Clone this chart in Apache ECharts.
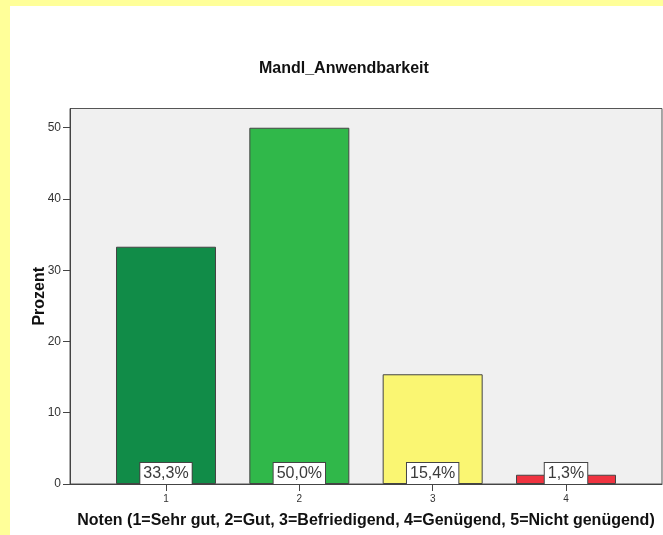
<!DOCTYPE html>
<html>
<head>
<meta charset="utf-8">
<script src="https://cdn.jsdelivr.net/npm/echarts@6/dist/echarts.min.js"></script>
<style>
  html, body { margin: 0; padding: 0; background: #ffff99; }
  #chart { position: absolute; left: 10px; top: 6px; width: 653px; height: 529px; background: #fff; }
</style>
</head>
<body>
<div id="chart"></div>
<script>
// Noten und Prozentwerte
const categories = ['1', '2', '3', '4'];
const percents = [33.3, 50.0, 15.4, 1.3];
const barColors = ['#118c48', '#30b84a', '#faf672', '#ef3340'];
const yTicks = [0, 10, 20, 30, 40, 50];

const fontFamily = '"Liberation Sans", Arial, sans-serif';

const myChart = echarts.init(document.getElementById('chart'));

const option = {
  animation: false,
  textStyle: { fontFamily: fontFamily },
  title: {
    text: 'Mandl_Anwendbarkeit',
    left: 249,
    top: 55,
    padding: 0,
    textStyle: { fontSize: 16, fontWeight: 'bold', color: '#111', fontFamily: fontFamily }
  },
  grid: {
    left: 60,
    top: 102.5,
    right: 1,
    bottom: 51,
    show: true,
    backgroundColor: '#f0f0f0',
    borderColor: '#555',
    borderWidth: 1
  },
  xAxis: {
    type: 'value',
    min: 0.28,
    max: 4.72,
    name: 'Noten (1=Sehr gut, 2=Gut, 3=Befriedigend, 4=Genügend, 5=Nicht genügend)',
    nameLocation: 'middle',
    nameGap: 29,
    nameMoveOverlap: false,
    nameTextStyle: { fontSize: 16, fontWeight: 'bold', color: '#111' },
    axisLine: { lineStyle: { color: '#444' } },
    axisTick: {
      customValues: categories.map((c, i) => i + 1),
      length: 7,
      lineStyle: { color: '#444' }
    },
    axisLabel: {
      customValues: categories.map((c, i) => i + 1),
      formatter: v => categories[Math.round(v) - 1],
      fontSize: 10,
      color: '#333',
      margin: 10
    },
    splitLine: { show: false }
  },
  yAxis: {
    type: 'value',
    min: 0,
    max: 52.7,
    name: 'Prozent',
    nameLocation: 'middle',
    nameGap: 22,
    nameMoveOverlap: false,
    nameTextStyle: { fontSize: 16, fontWeight: 'bold', color: '#111' },
    axisLine: { show: true, lineStyle: { color: '#444' } },
    axisTick: { customValues: yTicks, length: 7, lineStyle: { color: '#444' } },
    axisLabel: { customValues: yTicks, fontSize: 12, color: '#333', margin: 9 },
    splitLine: { show: false }
  },
  series: [{
    type: 'bar',
    barWidth: 100,
    data: percents.map((p, i) => ({
      value: [i + 1, p],
      itemStyle: { color: barColors[i] }
    })),
    itemStyle: { borderColor: '#444', borderWidth: 1 },
    label: {
      show: true,
      position: 'insideBottom',
      distance: 0,
      formatter: p => p.value[1].toFixed(1).replace('.', ',') + '%',
      fontSize: 16,
      lineHeight: 18,
      color: '#3a3a3a',
      backgroundColor: '#fff',
      borderColor: '#444',
      borderWidth: 1,
      padding: [2, 3, 1, 3]
    }
  }]
};

myChart.setOption(option);
</script>
</body>
</html>
